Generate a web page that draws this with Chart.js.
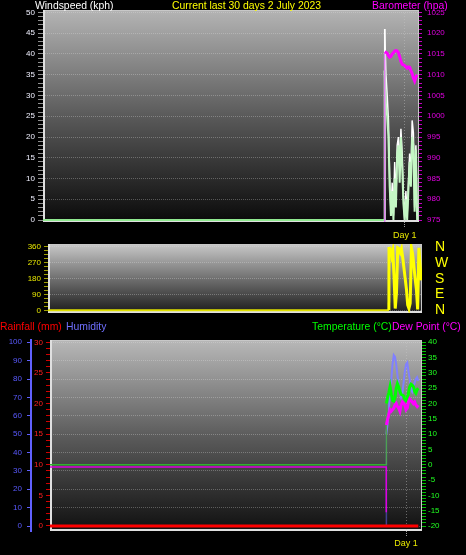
<!DOCTYPE html>
<html><head><meta charset="utf-8">
<script src="https://cdn.jsdelivr.net/npm/chart.js@4.4.0/dist/chart.umd.min.js"></script>
<style>
html,body{margin:0;padding:0;background:#000;width:466px;height:555px;overflow:hidden;}
canvas{position:absolute;left:0;}
.lbl{position:absolute;font-family:"Liberation Sans",Arial,sans-serif;font-size:10.4px;white-space:nowrap;line-height:11px;}
</style></head><body>
<canvas id="c1" width="466" height="240" style="top:0px"></canvas>
<canvas id="c2" width="466" height="84" style="top:236px"></canvas>
<canvas id="c3" width="466" height="221" style="top:334px"></canvas>
<div class="lbl" style="left:35px;top:0px;color:#ffffff">Windspeed (kph)</div>
<div class="lbl" style="left:172px;top:0px;color:#ffff00">Current last 30 days 2 July 2023</div>
<div class="lbl" style="left:372px;top:0px;color:#ff00ff">Barometer (hpa)</div>
<div class="lbl" style="left:0px;top:321px;color:#ff0000">Rainfall (mm)</div>
<div class="lbl" style="left:66px;top:321px;color:#7070ff">Humidity</div>
<div class="lbl" style="left:312px;top:321px;color:#00ff00">Temperature (°C)</div>
<div class="lbl" style="left:392px;top:321px;color:#ff00ff">Dew Point (°C)</div>
<script>
// ---------- data ----------
const flatDays = [0, 27.39];            // period with no readings (values recorded as 0)
const days = [27.4, 27.5, 27.6, 27.7, 27.8, 27.9, 28.0, 28.1, 28.2, 28.3, 28.4, 28.5, 28.6, 28.7,
              28.8, 28.9, 29.0, 29.1, 29.2, 29.3, 29.4, 29.5, 29.6, 29.7, 29.8, 29.9, 30.0];
const dayTicks = [29];
const dayLabels = ['Day 1'];

const windGustFlat = [0, 0];
const windGust = [46, 35, 30, 24, 10, 2, 9, 1, 14, 4, 18, 20, 12, 22, 16, 6, 0, 7, 1, 9, 16, 10, 24, 21, 3, 18, 1];
const windAvgFlat = [0, 0];
const windAvg = [36, 28, 25, 20, 8, 1, 7, 0, 10, 3, 16, 18, 9, 20, 13, 4, 0, 5, 0, 7, 14, 8, 20, 18, 2, 17, 0];
const baroFlat = [0, 0];
const baro = [1015.5, 1015.4, 1015.2, 1014.6, 1014.2, 1014.4, 1015.0, 1015.3, 1015.7, 1015.8, 1015.7, 1015.3, 1014.3, 1013.2,
              1012.5, 1012.4, 1012.2, 1011.9, 1011.6, 1011.9, 1011.8, 1011.0, 1010.3, 1009.2, 1008.5, 1009.4, 1010.0];

const windDirFlat = [0, 0];
const windDir = [360, 350, 310, 340, 200, 10, 100, 355, 350, 330, 350, 300, 240, 180, 120, 30, 10, 40, 355, 320, 250, 180, 120, 5, 355, 250, 170];
const compassValues = [0, 90, 180, 270, 360];
const compassLabels = ['N', 'E', 'S', 'W', 'N'];

const rainDays = [0, 30];
const rain = [0, 0];
const tempFlat = [0, 0];
const temp = [20, 22, 23.5, 25.5, 23, 21, 20.8, 22, 25, 26.5, 25.5, 24, 23, 22.8, 22.5, 21.5, 21, 21.5, 23.5, 25.5, 26.3, 26, 25.5, 24, 23.4, 24.5, 25];
const dewFlatDays = [0, 27.39, 27.39];
const dewFlat = [-0.7, -0.7, -15.5];
const dew = [13, 15, 16.5, 18, 17.5, 18, 18.5, 19.5, 20, 19, 18.5, 17.5, 19.5, 20.5, 20, 19.5, 18, 18.5, 20.5, 21.5, 21, 20.5, 20, 20.5, 19.5, 19, 19.5];
const humFlat = [0, 0];
const humidity = [50, 56, 62, 76, 80, 88, 93, 92, 88, 82, 77, 73, 70, 72, 78, 84, 88, 89, 84, 80, 74, 73, 76, 78, 80, 81, 79];

function range(a, b, s) { const r = []; for (let v = a; v <= b + 1e-9; v += s) r.push(Math.round(v * 100) / 100); return r; }
const windTicks = range(0, 50, 1);
const baroTicks = range(975, 1025, 1);
const dirTicks = range(0, 360, 22.5);
const humTicks = range(0, 100, 10);
const rainTicks = range(0, 30, 1);
const tempTicks = range(-20, 40, 1);

// ---------- helpers ----------
const FONT = '"Liberation Sans", Arial, sans-serif';
Chart.defaults.font.family = FONT;
const END = flatDays[1];
function pts(xs, ys) { return xs.map((x, i) => ({x: x, y: ys[i]})); }
function fix(w, h) {
  return s => {
    if (w != null) s.width = w;
    if (h != null) s.height = h;
    s.paddingTop = 0; s.paddingBottom = 0; s.paddingLeft = 0; s.paddingRight = 0;
  };
}
function setTicks(vals) { return s => { s.ticks = vals.map(v => ({value: v})); }; }
function seg(flatColor, flatW, jumpColor, jumpW) {
  return {
    borderColor: c => c.p1.parsed.x <= END ? flatColor : (c.p0.parsed.x <= END ? jumpColor : undefined),
    borderWidth: c => c.p1.parsed.x <= END ? flatW : (c.p0.parsed.x <= END ? jumpW : undefined)
  };
}
const bg = {
  id: 'bg',
  beforeDraw(chart, args, o) {
    const {ctx, chartArea: a} = chart;
    const g = ctx.createLinearGradient(0, a.top, 0, a.bottom);
    g.addColorStop(0, o.top); g.addColorStop(0.5, o.mid); g.addColorStop(1, o.bottom);
    ctx.save();
    ctx.fillStyle = g;
    ctx.fillRect(a.left, a.top, a.width, a.height);
    ctx.strokeStyle = '#c8c8c8'; ctx.lineWidth = 1;
    ctx.strokeRect(a.left + 0.5, a.top + 0.5, a.width - 1, a.height - 1);
    ctx.strokeStyle = '#e0e0e0'; ctx.lineWidth = 2;
    ctx.beginPath();
    ctx.moveTo(a.left + 1, a.top); ctx.lineTo(a.left + 1, a.bottom - 1); ctx.lineTo(a.right, a.bottom - 1);
    ctx.stroke();
    ctx.restore();
  }
};
const gridCol = 'rgba(230,230,230,0.3)';
function every(n) { return c => (c.tick && Math.abs(c.tick.value % n) < 1e-6) ? gridCol : 'rgba(0,0,0,0)'; }
function lbl(n) { return v => (Math.abs(v % n) < 1e-6) ? String(v) : ''; }
function xAxis(max, h, tl, color) {
  return {
    type: 'linear', min: 0, max: max,
    afterFit: fix(null, h), afterBuildTicks: setTicks(dayTicks),
    ticks: {color: color, font: {size: 9}, padding: 2, maxRotation: 0, autoSkip: false,
            callback: v => dayLabels[dayTicks.indexOf(v)] || ''},
    grid: {color: 'rgba(200,200,200,0.45)', tickColor: 'rgba(170,170,170,0.9)', tickLength: tl, tickBorderDash: [1, 1]},
    border: {display: false, dash: [1, 2]}
  };
}
const base = {responsive: false, animation: false, events: [], devicePixelRatio: 1,
  elements: {point: {radius: 0}, line: {tension: 0}}};

// ---------- chart 1: wind speed & barometer ----------
new Chart(document.getElementById('c1'), {
  type: 'line',
  data: {datasets: [
    {data: pts(flatDays, baroFlat).concat(pts(days, baro)), yAxisID: 'yb', borderColor: '#ff00ff', borderWidth: 3,
     segment: seg('#ff00ff', 1, '#e080f0', 1.5)},
    {data: pts(flatDays, windAvgFlat).concat(pts(days, windAvg)), yAxisID: 'y', borderColor: '#c4f7c4', borderWidth: 2,
     segment: seg('#90e890', 2, '#c4f7c4', 2)},
    {data: pts(flatDays, windGustFlat).concat(pts(days, windGust)), yAxisID: 'y', borderColor: '#ffffff', borderWidth: 1.5,
     segment: seg('#90e890', 2, '#ffffff', 1.5)}
  ]},
  options: Object.assign({}, base, {
    layout: {padding: {top: 10, left: 0, right: 0, bottom: 0}},
    plugins: {legend: {display: false}, tooltip: {enabled: false}, bg: {top: '#b4b4b4', mid: '#5a5a5a', bottom: '#0a0a0a'}},
    scales: {
      x: xAxis(30.15, 18, 6, '#e8e800'),
      y: {position: 'left', min: -0.48, max: 50.6, afterFit: fix(43), afterBuildTicks: setTicks(windTicks),
          ticks: {color: '#f0f0ff', font: {size: 8}, padding: 3, autoSkip: false, callback: lbl(5)},
          grid: {color: every(5), tickColor: '#909090', tickLength: 5},
          border: {display: false, dash: [1, 1]}},
      yb: {position: 'right', min: 974.52, max: 1025.6, afterFit: fix(47), afterBuildTicks: setTicks(baroTicks),
           ticks: {color: '#e000e0', font: {size: 8}, padding: 5, autoSkip: false, callback: lbl(5)},
           grid: {drawOnChartArea: false, tickColor: '#c000c0', tickLength: 3},
           border: {display: false}}
    }
  }),
  plugins: [bg]
});

// ---------- chart 2: wind direction ----------
new Chart(document.getElementById('c2'), {
  type: 'line',
  data: {datasets: [
    {data: pts(flatDays, windDirFlat).concat(pts(days, windDir)), yAxisID: 'y', borderColor: '#ffff00', borderWidth: 3,
     segment: seg('#e0e000', 2, '#ffff00', 3)}
  ]},
  options: Object.assign({}, base, {
    layout: {padding: {top: 8, left: 0, right: 0, bottom: 7}},
    plugins: {legend: {display: false}, tooltip: {enabled: false}, bg: {top: '#c8c8c8', mid: '#707070', bottom: '#1c1c1c'}},
    scales: {
      x: {type: 'linear', min: 0, max: 30.05, display: false},
      y: {position: 'left', min: -15.36, max: 377.06, afterFit: fix(48), afterBuildTicks: setTicks(dirTicks),
          ticks: {color: '#e8e800', font: {size: 8}, padding: 3, autoSkip: false, callback: lbl(90)},
          grid: {color: every(90), tickColor: '#a0a000', tickLength: 4},
          border: {display: false, dash: [1, 1]}},
      yr: {position: 'right', min: -15.36, max: 377.06, afterFit: fix(44), afterBuildTicks: setTicks(compassValues),
           ticks: {color: '#ffff00', font: {size: 14}, padding: 13, autoSkip: false,
                   callback: v => compassLabels[compassValues.indexOf(v)]},
           grid: {drawOnChartArea: false, drawTicks: false},
           border: {display: false}}
    }
  }),
  plugins: [bg]
});

// ---------- chart 3: rainfall, humidity, temperature, dew point ----------
new Chart(document.getElementById('c3'), {
  type: 'line',
  data: {datasets: [
    {data: pts(rainDays, rain), yAxisID: 'yr', borderColor: '#ff0000', borderWidth: 3},
    {data: pts(dewFlatDays, dewFlat).concat([{x: 27.395, y: null}], pts(days, dew)), yAxisID: 'yt',
     borderColor: '#ff00ff', borderWidth: 3, segment: seg('#e000e0', 1.5, '#e000e0', 2)},
    {data: pts(flatDays, tempFlat).concat(pts(days, temp)), yAxisID: 'yt', borderColor: '#00ff00', borderWidth: 3,
     segment: seg('#30b030', 1.5, '#50a050', 1.5)},
    {data: pts(flatDays, humFlat).concat(pts(days, humidity)), yAxisID: 'yh', borderColor: '#8080ff', borderWidth: 2,
     segment: seg('#6060c0', 2, '#404090', 1.5)}
  ]},
  options: Object.assign({}, base, {
    layout: {padding: {top: 6, left: 0, right: 0, bottom: 0}},
    plugins: {legend: {display: false}, tooltip: {enabled: false}, bg: {top: '#b8b8b8', mid: '#5c5c5c', bottom: '#101010'}},
    scales: {
      x: xAxis(30.3, 24, 5, '#e8e800'),
      yr: {position: 'left', weight: 0, min: -0.8166, max: 30.376, afterFit: fix(19), afterBuildTicks: setTicks(rainTicks),
           ticks: {color: '#ff2020', font: {size: 8}, padding: 3, autoSkip: false, callback: lbl(5)},
           grid: {drawOnChartArea: false, tickColor: '#d00000', tickLength: 4},
           border: {display: false}},
      yh: {position: 'left', weight: 1, min: -2.72, max: 101.25, afterFit: fix(31), afterBuildTicks: setTicks(humTicks),
           ticks: {color: '#5a5aff', font: {size: 8}, padding: 5, autoSkip: false, callback: lbl(10)},
           grid: {color: every(10), tickColor: '#6060ff', tickLength: 4},
           border: {display: true, color: '#6060ff', width: 2, dash: [1, 1]}},
      yt: {position: 'right', min: -21.63, max: 40.75, afterFit: fix(44), afterBuildTicks: setTicks(tempTicks),
           ticks: {color: '#20ff20', font: {size: 8}, padding: 2, autoSkip: false, callback: lbl(5)},
           grid: {drawOnChartArea: false, tickColor: '#00c000', tickLength: 4},
           border: {display: false}}
    }
  }),
  plugins: [bg]
});
</script>
</body></html>
